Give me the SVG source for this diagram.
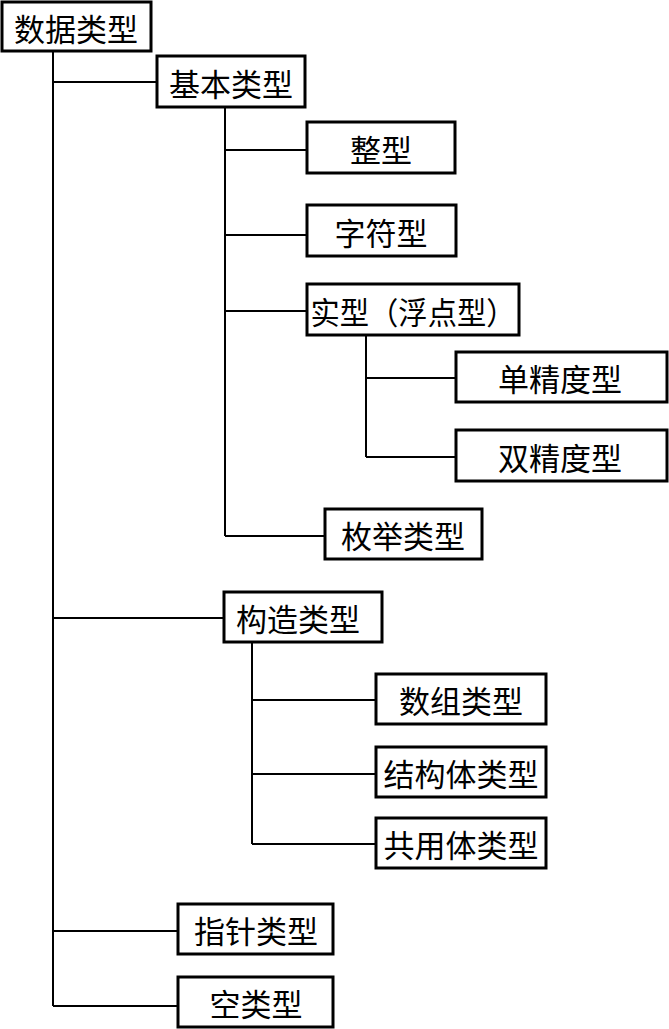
<svg xmlns="http://www.w3.org/2000/svg" width="669" height="1029" viewBox="0 0 669 1029">
<style>
.box{fill:#fff;stroke:#000;stroke-width:3}
.lbl{font-family:"Noto Sans CJK SC","Noto Sans CJK TC",sans-serif;font-size:31px;fill:#000;text-anchor:middle;dominant-baseline:central}
.conn{fill:none;stroke:#000;stroke-width:2}
</style>
<rect width="669" height="1029" fill="#fff"/>
<g id="connectors">
<path class="conn" d="M53,52 V1006 M53,82 H157 M53,618 H224 M53,931 H178 M53,1006 H178"/>
<path class="conn" d="M225,107 V536 M225,150 H307 M225,235 H307 M225,311 H307 M225,536 H325"/>
<path class="conn" d="M366,335 V457 M366,378 H456 M366,457 H456"/>
<path class="conn" d="M252,642 V844 M252,700 H376 M252,774 H376 M252,844 H376"/>
</g>
<g id="n-root"><rect class="box" x="2" y="2" width="149" height="49"/><text class="lbl" x="76" y="27">数据类型</text></g>
<g id="n-basic"><rect class="box" x="157" y="56" width="148" height="51"/><text class="lbl" x="231" y="82">基本类型</text></g>
<g id="n-int"><rect class="box" x="307" y="122" width="148" height="51"/><text class="lbl" x="381" y="148">整型</text></g>
<g id="n-char"><rect class="box" x="307" y="205" width="149" height="51"/><text class="lbl" x="381" y="231">字符型</text></g>
<g id="n-real"><rect class="box" x="307" y="284" width="212" height="51"/><text class="lbl" x="413" y="310" textLength="205" lengthAdjust="spacingAndGlyphs">实型（浮点型）</text></g>
<g id="n-float"><rect class="box" x="456" y="352" width="211" height="50"/><text class="lbl" x="560" y="377">单精度型</text></g>
<g id="n-double"><rect class="box" x="456" y="430" width="211" height="51"/><text class="lbl" x="560" y="456">双精度型</text></g>
<g id="n-enum"><rect class="box" x="325" y="509" width="157" height="50"/><text class="lbl" x="403" y="534">枚举类型</text></g>
<g id="n-struct-kind"><rect class="box" x="224" y="592" width="158" height="50"/><text class="lbl" x="298" y="617">构造类型</text></g>
<g id="n-array"><rect class="box" x="376" y="674" width="170" height="50"/><text class="lbl" x="461" y="699">数组类型</text></g>
<g id="n-struct"><rect class="box" x="376" y="747" width="170" height="50"/><text class="lbl" x="461" y="772">结构体类型</text></g>
<g id="n-union"><rect class="box" x="376" y="818" width="170" height="50"/><text class="lbl" x="461" y="843">共用体类型</text></g>
<g id="n-pointer"><rect class="box" x="178" y="904" width="155" height="50"/><text class="lbl" x="256" y="929">指针类型</text></g>
<g id="n-void"><rect class="box" x="178" y="977" width="155" height="50"/><text class="lbl" x="256" y="1002">空类型</text></g>
</svg>
